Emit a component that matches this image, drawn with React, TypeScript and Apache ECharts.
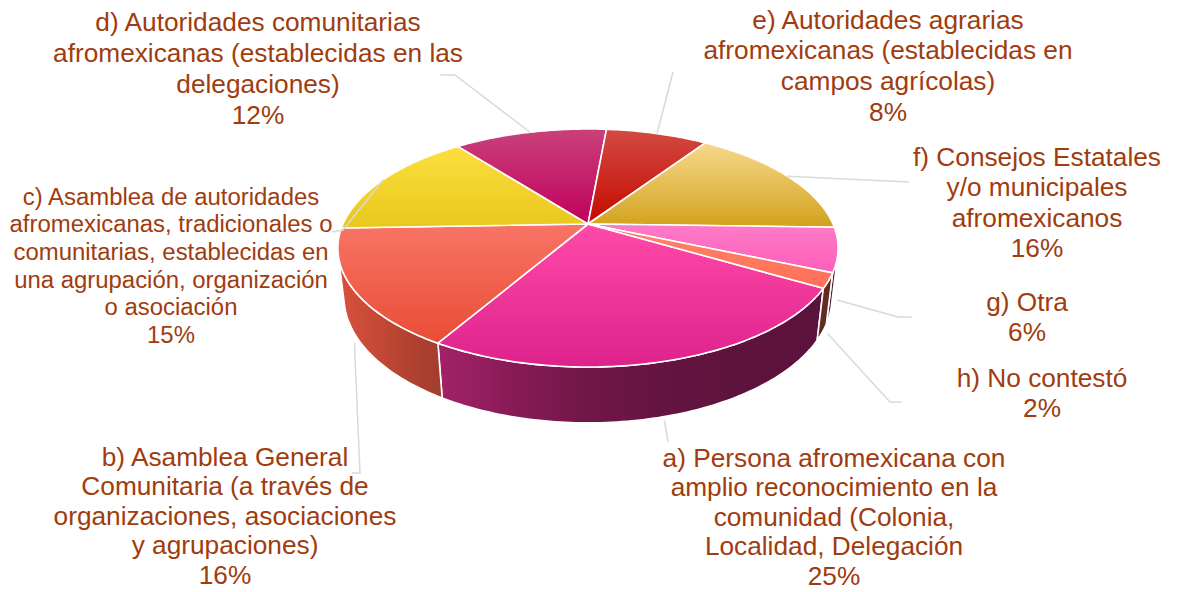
import React, { useEffect, useRef } from "react";
import * as echarts from "echarts";

// ---------- data ----------
const categories = [
  "a) Persona afromexicana con\namplio reconocimiento en la\ncomunidad (Colonia,\nLocalidad, Delegación",
  "b) Asamblea General\nComunitaria (a través de\norganizaciones, asociaciones\ny agrupaciones)",
  "c) Asamblea de autoridades\nafromexicanas, tradicionales o\ncomunitarias, establecidas en\nuna agrupación, organización\no asociación",
  "d) Autoridades comunitarias\nafromexicanas (establecidas en las\ndelegaciones)",
  "e) Autoridades agrarias\nafromexicanas (establecidas en\ncampos agrícolas)",
  "f) Consejos Estatales\ny/o municipales\nafromexicanos",
  "g) Otra",
  "h) No contestó",
];
const values = [25, 16, 15, 12, 8, 16, 6, 2];

// ---------- styles ----------
const topGradients = [
  ["#ff4aa8", "#de228c"],
  ["#f87466", "#e94d35"],
  ["#fcdf3f", "#e9c71b"],
  ["#c9417a", "#c1005e"],
  ["#d24a42", "#c50a00"],
  ["#f6d98c", "#d2a11c"],
  ["#fd7bc8", "#fd5fb9"],
  ["#ff8468", "#ff7058"],
];
const wallBase = ["#f0309a", "#f05a42", "#f0d02c", "#c4206a", "#ca2a20", "#e0b040", "#c05090", "#ff7058"];
const TEXT_COLOR = "#a03c0e";
const LEADER_COLOR = "#d9d9d9";

// label layout: center x, center y of first line, line spacing, font size, horizontal scale, leader bend points
const labelLayout = [
  { cx: 834, cy: 458, lh: 29.5, fs: 25, sx: 1.05, leader: [[668, 442]] },
  { cx: 225, cy: 457, lh: 29.5, fs: 25, sx: 1.05, leader: [[360, 473], [352, 473]] },
  { cx: 171, cy: 197, lh: 27.6, fs: 23, sx: 1.04, leader: [[343, 230], [332, 232]] },
  { cx: 258, cy: 22, lh: 31, fs: 25, sx: 1.05, leader: [[455, 75], [440, 75]] },
  { cx: 888, cy: 20, lh: 30.7, fs: 25, sx: 1.05, leader: [[673, 72]] },
  { cx: 1037, cy: 157, lh: 30.5, fs: 25, sx: 1.05, leader: [[909, 182]] },
  { cx: 1027, cy: 302, lh: 30, fs: 25, sx: 1.05, leader: [[898, 317], [912, 317]] },
  { cx: 1042, cy: 378, lh: 30, fs: 25, sx: 1.05, leader: [[890, 402], [902, 402]] },
];

// pie geometry (3D perspective)
const PIE = { cx: 588, cy: 224, rPx: 245, tiltSin: 0.466, radiusToDist: 0.228, thickness: 0.228, startDeg: 30.4 };

const total = values.reduce((s, v) => s + v, 0);
const cumulative = values.map((_, i) => values.slice(0, i).reduce((s, v) => s + v, 0));

const sinA = PIE.tiltSin;
const cosA = Math.sqrt(1 - sinA * sinA);
const D = 1 / PIE.radiusToDist;
const F = PIE.rPx * D;
const H = PIE.thickness;
const SIL = Math.asin(1 / (D * cosA));

function proj(rad: number, theta: number, Y: number): number[] {
  const X = rad * Math.cos(theta);
  const Z = rad * Math.sin(theta);
  const d = D - Z * cosA - Y * sinA;
  return [PIE.cx + (X * F) / d, PIE.cy + ((Z * sinA - Y * cosA) * F) / d];
}

function hexToRgb(h: string) {
  const n = parseInt(h.slice(1), 16);
  return [(n >> 16) & 255, (n >> 8) & 255, n & 255];
}
function shade(h: string, f: number) {
  const [r, g, b] = hexToRgb(h);
  const c = (x: number) => Math.max(0, Math.min(255, Math.round(x * f)));
  return `rgb(${c(r)},${c(g)},${c(b)})`;
}
function wallFactor(x: number) {
  let xn = (x - (PIE.cx - PIE.rPx)) / (2 * PIE.rPx);
  xn = Math.max(0, Math.min(1, xn));
  return 0.38 + 0.52 * Math.pow(1 - xn, 2.5);
}

function arcPoints(a0: number, a1: number, Y: number, rad = 1) {
  const n = Math.max(2, Math.ceil(Math.abs(a1 - a0) / (Math.PI / 180)));
  const pts: number[][] = [];
  for (let k = 0; k <= n; k++) pts.push(proj(rad, a0 + ((a1 - a0) * k) / n, Y));
  return pts;
}

const renderItem = (params: any, api: any) => {
  const i = params.dataIndex;
  const v = api.value(0);
  const start = (PIE.startDeg * Math.PI) / 180;
  const a0 = start + (cumulative[i] / total) * Math.PI * 2;
  const a1 = a0 + (v / total) * Math.PI * 2;
  const children: any[] = [];

  // walls (front visible part)
  for (const shift of [0, -Math.PI * 2, Math.PI * 2]) {
    const lo = Math.max(a0 + shift, SIL);
    const hi = Math.min(a1 + shift, Math.PI - SIL);
    if (hi > lo) {
      const top = arcPoints(lo, hi, 0);
      const bot = arcPoints(hi, lo, -H);
      const pts = top.concat(bot);
      const xs = pts.map((p) => p[0]);
      const minX = Math.min(...xs);
      const maxX = Math.max(...xs);
      const stops = [0, 0.2, 0.4, 0.6, 0.8, 1].map((t) => ({
        offset: t,
        color: shade(wallBase[i], wallFactor(minX + t * (maxX - minX))),
      }));
      children.push({
        type: "polygon",
        z2: 1,
        shape: { points: pts },
        style: { fill: new echarts.graphic.LinearGradient(0, 0, 1, 0, stops), stroke: "#ffffff", lineWidth: 1.6, lineJoin: "round" },
      });
    }
  }

  // top face
  const topPts = [proj(0, 0, 0)].concat(arcPoints(a0, a1, 0));
  children.push({
    type: "polygon",
    z2: 2,
    shape: { points: topPts },
    style: {
      fill: new echarts.graphic.LinearGradient(0, 0, 0, 1, [
        { offset: 0, color: topGradients[i][0] },
        { offset: 1, color: topGradients[i][1] },
      ]),
      stroke: "#ffffff",
      lineWidth: 1.6,
      lineJoin: "round",
    },
  });

  // leader line
  const mid = (a0 + a1) / 2;
  const front = Math.sin(mid) > 0;
  const startPt = proj(front ? 1.02 : 1.0, mid, front ? -H : 0);
  const lay = labelLayout[i];
  children.push({
    type: "polyline",
    z2: 3,
    shape: { points: [startPt].concat(lay.leader) },
    style: { stroke: LEADER_COLOR, lineWidth: 1.5, fill: null },
  });

  // label, one text per line
  const lines = `${categories[i]}\n${v}%`.split("\n");
  lines.forEach((line, k) => {
    children.push({
      type: "text",
      z2: 4,
      x: lay.cx,
      y: lay.cy + k * lay.lh,
      scaleX: lay.sx,
      style: {
        text: line,
        x: 0,
        y: 0,
        fill: TEXT_COLOR,
        fontSize: lay.fs,
        fontFamily: '"Liberation Sans", Arial, sans-serif',
        lineHeight: Math.round(lay.fs * 0.88),
        align: "center",
        verticalAlign: "middle",
        textAlign: "center",
        textVerticalAlign: "middle",
      },
    });
  });

  return { type: "group", children };
};

export default function App() {
  const ref = useRef<HTMLDivElement>(null);
  useEffect(() => {
    document.body.style.margin = "0";
    const chart = echarts.init(ref.current as HTMLDivElement, null, { renderer: "svg" });
    chart.setOption({
      animation: false,
      backgroundColor: "#ffffff",
      series: [
        {
          type: "custom",
          coordinateSystem: "none",
          silent: true,
          renderItem,
          data: values.map((v, i) => ({ name: categories[i], value: v })),
        },
      ],
    });
    return () => chart.dispose();
  }, []);
  return <div ref={ref} style={{ position: "absolute", left: 0, top: 0, width: 1181, height: 592 }} />;
}
